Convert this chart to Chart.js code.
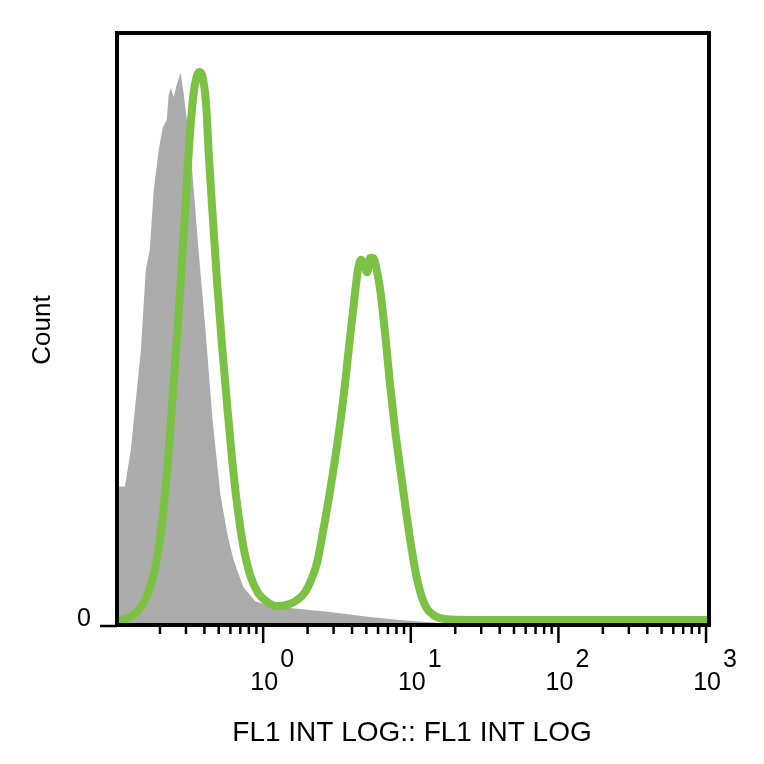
<!DOCTYPE html>
<html>
<head>
<meta charset="utf-8">
<script src="https://cdn.jsdelivr.net/npm/chart.js@4.4.1/dist/chart.umd.min.js"></script>
<style>
  html, body { margin: 0; padding: 0; background: #fff; }
  canvas { display: block; }
</style>
</head>
<body>
<canvas id="histChart" width="764" height="764"></canvas>
<script>
// FL1 intensity (log10) and count (% of axis height)
const controlLog = [-0.976, -0.936, -0.896, -0.862, -0.828, -0.795, -0.768, -0.741, -0.707, -0.680, -0.653, -0.640, -0.626, -0.606, -0.586, -0.559, -0.539, -0.492, -0.438, -0.391, -0.343, -0.290, -0.242, -0.202, -0.135, -0.054, 0.047, 0.249, 0.451, 0.721, 0.923, 1.192, 1.394, 3.02];
const controlCount = [23.4, 23.4, 29.7, 38.1, 46.5, 60.0, 63.4, 73.5, 80.3, 84.1, 85.3, 89.5, 90.7, 89.2, 91.2, 93.3, 89.9, 80.3, 63.4, 49.9, 34.7, 22.1, 15.3, 11.1, 6.4, 4.0, 3.2, 2.7, 2.2, 1.35, 0.84, 0.34, 0, 0];

const stainedLog = [-0.976, -0.901, -0.833, -0.779, -0.732, -0.698, -0.664, -0.630, -0.596, -0.562, -0.528, -0.501, -0.474, -0.447, -0.427, -0.407, -0.386, -0.366, -0.339, -0.312, -0.278, -0.244, -0.210, -0.176, -0.136, -0.088, -0.034, 0.027, 0.095, 0.163, 0.230, 0.285, 0.325, 0.366, 0.407, 0.454, 0.501, 0.542, 0.583, 0.617, 0.644, 0.664, 0.684, 0.705, 0.725, 0.745, 0.772, 0.793, 0.827, 0.860, 0.894, 0.928, 0.962, 0.996, 1.030, 1.064, 1.104, 1.152, 1.233, 1.402, 3.02];
const stainedCount = [0.84, 1.35, 2.9, 5.4, 9.6, 14.7, 22.3, 32.6, 44.4, 56.6, 70.1, 81.1, 89.2, 92.9, 93.4, 92.2, 87.8, 78.5, 68.1, 57.9, 47.0, 37.2, 27.9, 20.3, 13.5, 8.4, 5.4, 3.9, 3.2, 3.4, 4.2, 5.6, 7.6, 10.6, 16.0, 22.8, 30.4, 38.0, 47.3, 54.9, 60.3, 61.7, 61.0, 59.6, 62.0, 62.0, 59.6, 56.6, 49.0, 40.5, 32.9, 26.5, 20.3, 14.4, 9.3, 5.6, 3.0, 1.7, 1.0, 0.84, 0.84];

const decades = [0, 1, 2, 3];
const xMin = -0.99, xMax = 3.02;

const FONT = "'Liberation Sans', Arial, sans-serif";

const axesPlugin = {
  id: 'flowAxes',
  afterDraw(chart) {
    const { ctx, chartArea: a, scales: { x, y } } = chart;
    ctx.save();
    ctx.strokeStyle = '#000';
    ctx.fillStyle = '#000';

    // frame
    ctx.lineWidth = 4;
    ctx.strokeRect(a.left, a.top, a.right - a.left, a.bottom - a.top);

    // minor + major ticks on the log axis
    ctx.lineWidth = 2.5;
    for (let d = -1; d <= 2; d++) {
      for (let k = 1; k <= 9; k++) {
        const v = d + Math.log10(k);
        if (v < xMin || v > xMax) continue;
        const px = x.getPixelForValue(v);
        const len = k === 1 ? 18 : 9;
        ctx.beginPath();
        ctx.moveTo(px, a.bottom);
        ctx.lineTo(px, a.bottom + len);
        ctx.stroke();
      }
    }
    const pxLast = x.getPixelForValue(3);
    ctx.beginPath();
    ctx.moveTo(pxLast, a.bottom);
    ctx.lineTo(pxLast, a.bottom + 18);
    ctx.stroke();

    // y zero tick
    const py0 = y.getPixelForValue(0);
    ctx.beginPath();
    ctx.moveTo(a.left - 17, py0 + 1);
    ctx.lineTo(a.left, py0 + 1);
    ctx.stroke();

    ctx.font = `25px ${FONT}`;
    ctx.textAlign = 'right';
    ctx.textBaseline = 'alphabetic';
    ctx.fillText('0', 91, py0 + 1);

    // decade labels 10^n
    decades.forEach(d => {
      const px = x.getPixelForValue(d);
      ctx.textAlign = 'center';
      ctx.fillText('10', px + 1, 690);
      ctx.textAlign = 'left';
      ctx.fillText(String(d), px + 17, 667);
    });

    // axis titles
    ctx.font = `28px ${FONT}`;
    ctx.textAlign = 'center';
    ctx.fillText('FL1 INT LOG:: FL1 INT LOG', 412, 741);

    ctx.save();
    ctx.translate(43, 330);
    ctx.rotate(-Math.PI / 2);
    ctx.font = `26px ${FONT}`;
    ctx.textBaseline = 'middle';
    ctx.fillText('Count', 0, 0);
    ctx.restore();

    ctx.restore();
  }
};

new Chart(document.getElementById('histChart'), {
  type: 'line',
  data: {
    datasets: [
      {
        label: 'Stained',
        data: stainedLog.map((v, i) => ({ x: v, y: stainedCount[i] })),
        borderColor: '#7bc143',
        borderWidth: 8,
        borderCapStyle: 'round',
        borderJoinStyle: 'round',
        cubicInterpolationMode: 'monotone',
        pointRadius: 0,
        fill: false,
        order: 0
      },
      {
        label: 'Control',
        data: controlLog.map((v, i) => ({ x: v, y: controlCount[i] })),
        borderWidth: 0,
        borderColor: 'rgba(0,0,0,0)',
        backgroundColor: '#ababac',
        pointRadius: 0,
        tension: 0,
        fill: 'origin',
        order: 1
      }
    ]
  },
  options: {
    responsive: false,
    animation: false,
    layout: { padding: { left: 117, right: 55, top: 33, bottom: 139 } },
    plugins: { legend: { display: false }, tooltip: { enabled: false } },
    scales: {
      x: { type: 'linear', min: xMin, max: xMax, display: false },
      y: { type: 'linear', min: 0, max: 100, display: false }
    }
  },
  plugins: [axesPlugin]
});
</script>
</body>
</html>
